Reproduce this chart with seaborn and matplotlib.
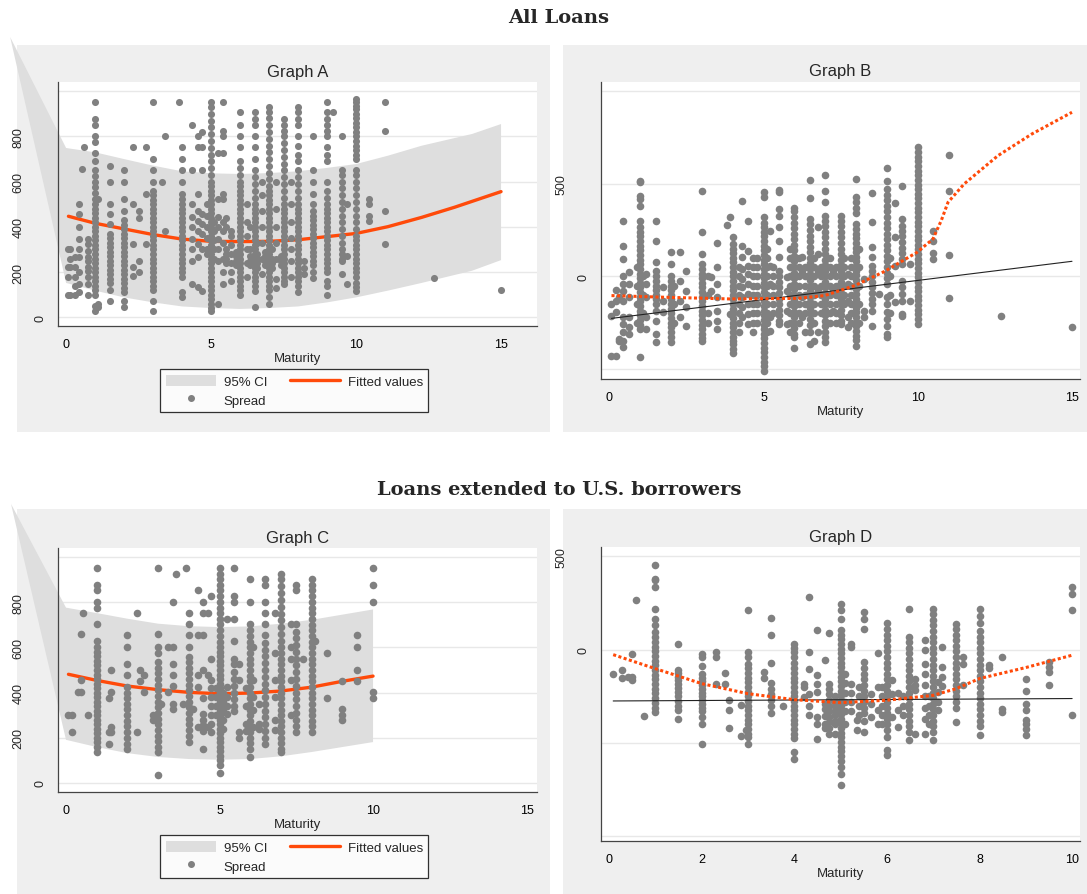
import matplotlib
matplotlib.use("Agg")
import matplotlib.pyplot as plt
import seaborn as sns
import pandas as pd
from matplotlib.patches import Rectangle, Patch
from matplotlib.lines import Line2D
from matplotlib.transforms import Bbox

# ---------------- data ----------------
# spread by maturity column, Graph A (all loans)
cols_a = {
    0.05: [302, 224, 177, 100], 0.15: [224, 100, 302, 260], 0.3: [265, 224, 177, 100, 140],
    0.45: [501, 457, 398, 346, 265, 199, 147, 110, 300], 0.55: [656], 0.6: [752],
    0.75: [346, 324, 295, 265, 224, 177, 147, 100, 250, 205],
    1.0: [951, 877, 852, 801, 774, 725, 693, 652, 627, 600, 575, 550, 525, 500, 480, 460, 440, 420,
          400, 380, 360, 340, 320, 300, 280, 260, 240, 220, 200, 180, 160, 140, 120, 100, 50, 29],
    1.1: [59, 523, 47],
    1.5: [668, 597, 501, 457, 413, 370, 350, 330, 310, 290, 270, 250, 230, 210, 190, 170, 150, 120, 74],
    2.0: [652, 597, 523, 472, 430, 410, 390, 370, 350, 330, 310, 290, 270, 250, 230, 210, 190, 170,
          150, 130, 110, 74, 47],
    2.3: [752, 501, 324, 224, 184], 2.5: [472, 440, 250, 200], 2.75: [752, 546, 324],
    3.0: [951, 700, 652, 597, 560, 540, 520, 500, 480, 460, 440, 420, 400, 380, 360, 340, 320, 300,
          280, 260, 240, 220, 200, 180, 160, 140, 120, 74, 29],
    3.3: [597], 3.4: [801, 383], 3.9: [951],
    4.0: [752, 700, 652, 597, 546, 523, 500, 480, 460, 440, 420, 400, 380, 360, 340, 320, 300, 280,
          260, 240, 220, 200, 180, 110, 88],
    4.35: [852, 652, 501, 442, 398, 346, 300, 250, 147], 4.55: [801, 752, 546, 472, 427, 383, 324, 265, 133],
    4.7: [820, 752, 652, 457, 413, 369, 302, 118], 4.85: [300, 280, 350, 400, 450, 500],
    5.0: [951, 930, 900, 870, 840, 810, 780, 750, 720, 690, 660, 630, 600, 580, 560, 540, 520, 500,
          480, 460, 440, 420, 400, 380, 360, 340, 320, 300, 280, 260, 240, 220, 200, 180, 160, 140,
          120, 100, 80, 60, 40, 29],
    5.1: [420, 380, 340, 300, 260],
    5.25: [726, 523, 442, 398, 346, 300, 250, 59], 5.4: [951, 826, 801, 725, 546, 523, 420, 380, 330, 260, 200, 147],
    5.5: [300, 280, 260, 240, 400, 440],
    5.7: [380, 360, 320, 280, 240, 200, 160], 5.85: [250, 270, 290, 230],
    6.0: [909, 852, 801, 752, 693, 660, 630, 600, 580, 560, 540, 520, 500, 480, 460, 440, 420, 400,
          380, 360, 340, 320, 300, 280, 260, 240, 220, 200, 180, 160, 140, 120, 100],
    6.25: [500, 420, 360, 300, 240, 180], 6.35: [250, 270, 230, 300, 400],
    6.5: [909, 877, 852, 801, 752, 700, 650, 620, 590, 560, 530, 500, 480, 460, 440, 420, 400, 380,
          360, 340, 320, 300, 280, 260, 240, 220, 200, 180, 160, 140, 118, 47],
    6.6: [260, 240, 280, 220, 330],
    6.75: [600, 540, 470, 400, 330, 260, 190], 6.85: [250, 230, 270, 290],
    7.0: [929, 907, 880, 850, 820, 790, 760, 730, 700, 670, 640, 610, 580, 560, 540, 520, 500, 480,
          460, 440, 420, 400, 380, 360, 340, 320, 300, 280, 260, 240, 220, 200, 180, 160, 140, 120, 90, 60],
    7.1: [240, 260, 220, 300],
    7.25: [600, 480, 400, 330, 260, 170, 130], 7.4: [270, 250, 230],
    7.5: [877, 852, 826, 801, 770, 740, 710, 680, 650, 620, 590, 560, 530, 500, 480, 460, 440, 420,
          400, 380, 360, 340, 320, 300, 280, 260, 240, 220, 200, 180, 160, 147],
    7.75: [600, 500, 420, 350, 300, 250, 180],
    8.0: [929, 907, 877, 852, 800, 760, 720, 690, 650, 620, 590, 560, 530, 500, 480, 460, 440, 420,
          400, 380, 360, 340, 320, 300, 280, 260, 240, 220, 200, 180, 160, 140, 110],
    8.2: [250, 220, 190],
    8.5: [801, 652, 597, 546, 501, 470, 450, 430, 410, 390, 370, 350, 330, 310, 290, 270, 250, 230, 200, 175],
    9.0: [951, 907, 877, 852, 826, 801, 752, 720, 693, 597, 560, 530, 500, 480, 460, 440, 420, 400,
          380, 360, 340, 320, 300, 280, 260, 240, 220, 200, 160, 140, 100],
    9.2: [907],
    9.5: [801, 650, 630, 600, 570, 540, 510, 480, 450, 420, 390, 360, 330, 300, 280, 260, 250, 190],
    9.7: [501, 270, 147],
    10.0: [966, 951, 935, 920, 900, 880, 860, 840, 820, 800, 780, 760, 740, 720, 700, 652, 630, 600,
           570, 540, 510, 480, 450, 420, 390, 360, 340, 320, 300, 280, 260, 240, 220, 200, 180, 150, 133, 118],
    10.45: [523, 501, 450, 427], 11.0: [951, 826, 472, 324], 12.7: [173], 15.0: [121],
}
fit_x_a = [0.08, 1, 2, 3, 4, 5, 6, 7, 8, 9, 10, 11.1, 12.26, 13.4, 15]
fit_y_a = [447, 416, 391, 366, 346, 336, 335, 336, 343, 357, 371, 401, 442, 487, 556]
ci_x_a = [0, 1, 2, 3, 4, 5, 6, 7, 8, 9, 10, 11.1, 12.26, 14, 15]
ci_hi_a = [749, 730, 700, 671, 646, 637, 634, 638, 646, 661, 678, 715, 759, 811, 855]
ci_lo_a = [152, 118, 88, 66, 48, 41, 37, 41, 48, 66, 88, 118, 152, 206, 253]
apex_a = (-1.93, 1240)

# Graph B (all loans, residual spread)
cols_b = {
    0.05: [-149, -212, -428], 0.2: [-428, -72, -131, -194], 0.3: [-338, -347, -113],
    0.45: [300, 165, 93, 4, -41, -77, -131, -221, -257, -302, -347, -383],
    0.65: [21, -41, -113, -221, -275, -311], 0.9: [50, -50, -150, -250],
    1.0: [516, 507, 435, 417, 381, 300, 264, 240, 215, 190, 165, 140, 115, 90, 65, 40, 15, -10, -35,
          -60, -85, -110, -135, -160, -185, -210, -235, -260, -284, -437],
    1.1: [0, -100, -200], 1.2: [12, -41, -113, -221, -284],
    1.5: [300, 192, 75, 30, 0, -25, -50, -75, -100, -125, -150, -185, -239, -311, -356],
    1.75: [-59, -131, -194],
    2.0: [129, 66, 0, -25, -50, -75, -100, -125, -150, -175, -200, -225, -250, -275, -300, -329, -356],
    2.1: [-50, -150, -250],
    2.3: [129, -23, -131, -221], 2.5: [30, -77, -167, -266],
    3.0: [459, 241, 120, 66, 40, 15, -10, -35, -60, -85, -110, -135, -160, -185, -210, -235, -260,
          -285, -310, -335, -347],
    3.2: [0, -100, -200, -250],
    3.3: [-5, -77], 3.5: [178, 48, -41, -113, -185, -239, -284], 3.8: [279], 3.9: [318, -203],
    4.0: [210, 174, 150, 125, 100, 75, 50, 25, 0, -25, -50, -75, -100, -125, -150, -175, -200, -225,
          -250, -275, -300, -325, -350, -365, -392, -416],
    4.2: [50, 0, -50, -100, -150, -200, -250, -300],
    4.3: [405, 165, 102, 39, -14, -59, -113, -167, -221], 4.5: [300, 138, 57, 10, -41, -95, -149, -203, -257],
    4.65: [100, 50, 0, -50, -100, -150, -200, -250, -300],
    4.8: [100, 50, 0, -50, -100, -150, -200, -250],
    5.0: [453, 426, 318, 290, 265, 240, 215, 190, 165, 140, 115, 90, 65, 40, 15, -10, -35, -60, -85,
          -110, -135, -160, -185, -210, -235, -260, -285, -310, -335, -360, -385, -410, -435, -460, -485, -509],
    5.1: [150, 100, 50, 0, -50, -100, -150, -200, -250, -300],
    5.2: [246, 57, -41, -221, -293], 5.3: [50, 0, -50, -100, -150, -200],
    5.5: [466, 453, 363, 327, 268, 192, 102, 30, 0, -30, -60, -90, -120, -150, -180, -210, -240, -257],
    5.75: [-5, -77, -185, -257], 5.85: [150, 100, 50, 0, -50, -100, -150, -200, -250, -300],
    6.0: [369, 354, 318, 290, 260, 230, 200, 170, 140, 110, 80, 50, 20, -10, -40, -70, -100, -130,
          -160, -190, -220, -250, -280, -310, -329, -387],
    6.15: [100, 50, 0, -50, -100, -150, -200, -250],
    6.25: [102, 30, -113, -221], 6.35: [50, 0, -50, -100, -150, -200, -300],
    6.5: [521, 423, 309, 280, 250, 220, 190, 160, 130, 100, 70, 40, 10, -20, -50, -80, -110, -140,
          -170, -200, -230, -260, -302, -365],
    6.65: [100, 50, 0, -50, -100, -150, -200, -250, -350],
    6.75: [264, 120, 30, -77, -302], 6.85: [50, 0, -50, -100, -150, -200],
    7.0: [548, 462, 399, 327, 300, 270, 240, 210, 180, 150, 120, 90, 60, 30, 0, -30, -60, -90, -120,
          -150, -180, -210, -240, -270, -300, -330, -356],
    7.15: [100, 50, 0, -50, -100, -150, -200, -250],
    7.25: [30, -77, -185], 7.35: [50, 0, -50, -100, -150, -200, -250],
    7.5: [327, 300, 270, 240, 210, 180, 150, 120, 90, 60, 30, 0, -30, -60, -90, -120, -150, -180, -210, -240, -257],
    7.6: [100, 50, 0, -50, -100, -150],
    7.75: [12, -41, -131, -221, -275], 7.85: [100, 50, 0, -50, -100, -150, -200, -250],
    8.0: [525, 426, 400, 370, 340, 282, 255, 230, 205, 180, 155, 130, 105, 80, 55, 30, 5, -20, -45,
          -70, -95, -120, -145, -170, -195, -220, -245, -270, -295, -320, -345, -374],
    8.1: [150, 50, -50, -150, -250],
    8.25: [-14, -185, -221],
    8.5: [450, 291, 160, 102, 57, 30, 0, -30, -60, -90, -120, -150, -185, -266],
    8.75: [-95],
    9.0: [583, 512, 471, 440, 410, 380, 350, 320, 290, 260, 230, 200, 170, 140, 110, 80, 50, 20, -10,
          -41, -113, -150, -190, -230, -270, -310, -329],
    9.1: [100, 0, -100, -200],
    9.25: [394, 210, 57, -140],
    9.5: [485, 309, 273, 245, 215, 185, 155, 125, 95, 66, -23, -60, -95, -131, -203, -212],
    9.75: [66, -131],
    10.0: [696, 670, 645, 620, 595, 570, 545, 520, 495, 470, 445, 420, 395, 370, 345, 320, 295, 270,
           245, 220, 195, 170, 145, 120, 95, 70, 45, 20, -5, -30, -55, -80, -105, -130, -155, -180,
           -205, -230, -257],
    10.5: [246, 192, 124, 93], 11.0: [655, 462, 117, -119], 12.7: [-216], 15.0: [-272],
}
lin_x_b = [0.07, 15]
lin_y_b = [-227, 81]
low_x_b = [0.07, 1.8, 3.9, 6.1, 6.98, 7.96, 8.93, 9.97, 10.49, 10.76, 10.98, 11.5, 12.6, 13.7, 15]
low_y_b = [-104, -113, -122, -119, -104, -50, 27, 129, 201, 300, 399, 498, 651, 768, 885]

# Graph C (U.S. borrowers)
cols_c = {
    0.05: [299], 0.21: [299, 225], 0.38: [401], 0.49: [658, 454, 401], 0.57: [752], 0.73: [299],
    1.0: [951, 877, 852, 801, 776, 702, 627, 601, 580, 560, 540, 520, 500, 480, 460, 440, 420, 400,
          380, 360, 340, 320, 300, 280, 260, 240, 220, 200, 180, 160, 137],
    1.4: [376, 225, 174], 1.47: [501, 401, 247, 225],
    2.0: [653, 601, 525, 476, 425, 400, 376, 351, 326, 300, 275, 250, 225, 200, 174, 149],
    2.3: [752, 225], 2.41: [501, 451], 2.55: [476, 401], 2.82: [299, 277],
    3.0: [951, 658, 601, 575, 535, 510, 485, 460, 435, 410, 385, 360, 335, 310, 285, 260, 235, 210,
          185, 160, 137, 35],
    3.1: [351], 3.31: [601, 401], 3.47: [801, 601, 525, 476, 427, 351, 326], 3.57: [926],
    3.82: [351], 3.9: [951],
    4.0: [752, 702, 653, 601, 557, 535, 510, 485, 460, 435, 410, 385, 360, 335, 310, 285, 260, 235, 210, 180],
    4.15: [326], 4.31: [852, 653, 476, 424, 247],
    4.47: [801, 752, 653, 498, 376, 306, 280, 255, 230, 149],
    4.64: [752, 476, 247], 4.71: [827, 550, 454, 420, 380, 340, 300, 260, 225],
    4.88: [420, 380, 340, 300],
    5.0: [951, 925, 901, 877, 852, 827, 801, 776, 752, 727, 702, 675, 650, 625, 600, 580, 560, 540,
          520, 500, 480, 460, 440, 420, 400, 380, 360, 340, 320, 300, 280, 260, 240, 220, 200, 180,
          160, 140, 120, 100, 78, 44],
    5.1: [400, 360, 320, 280, 240],
    5.23: [727, 424, 380, 340, 306],
    5.47: [951, 827, 801, 727, 627, 550, 525, 490, 460, 430, 400, 370, 340, 320],
    5.63: [525, 454, 225, 200], 5.85: [420, 340, 260, 230],
    6.0: [901, 801, 702, 675, 650, 625, 600, 575, 550, 525, 500, 475, 450, 425, 400, 375, 350, 325,
          300, 275, 250, 225, 200, 175, 150, 115],
    6.1: [601, 454, 380, 321, 247], 6.3: [260, 240, 350],
    6.48: [901, 877, 801, 752, 702, 653, 620, 590, 560, 530, 500, 470, 440, 410, 380, 350, 320, 290, 260, 230, 200, 174],
    6.81: [752, 575, 454, 380, 277, 233],
    7.0: [926, 901, 870, 840, 810, 780, 750, 720, 690, 660, 630, 600, 575, 550, 525, 500, 475, 450,
          425, 400, 375, 350, 325, 300, 275, 250, 225, 200, 175, 150, 137],
    7.32: [702, 601, 550, 454, 299],
    7.48: [877, 852, 702, 670, 640, 610, 580, 550, 520, 490, 460, 430, 400, 370, 340, 310, 280, 250, 225],
    7.73: [550],
    8.0: [901, 877, 852, 827, 801, 776, 752, 727, 700, 675, 650, 625, 600, 575, 550, 525, 500, 475,
          450, 425, 400, 375, 350, 325, 300, 275, 250, 225],
    8.1: [627], 8.49: [575, 376], 8.98: [451, 326, 299, 277], 9.49: [653, 601, 501, 451],
    10.0: [951, 877, 801, 401, 376],
}
fit_x_c = [0.08, 1, 2, 3, 4, 5, 6, 7, 8, 9, 10]
fit_y_c = [481, 454, 429, 413, 401, 395, 398, 407, 424, 450, 473]
ci_x_c = [0, 1, 2, 3, 4, 5, 6, 7, 8, 9, 10]
ci_hi_c = [776, 752, 727, 705, 694, 690, 693, 705, 722, 745, 768]
ci_lo_c = [191, 159, 132, 115, 106, 103, 106, 118, 137, 159, 181]
apex_c = (-1.79, 1235)

# Graph D (U.S. borrowers, residual spread)
cols_d = {
    0.09: [-128], 0.27: [-111, -153], 0.4: [-146], 0.5: [-25, -146, -164], 0.59: [264], 0.75: [-355],
    1.0: [452, 380, 371, 336, 220, 166, 130, 95, 66, 40, 15, -10, -35, -60, -85, -110, -135, -160,
          -185, -210, -235, -260, -285, -310, -335],
    1.49: [32, -107, -125, -145, -165, -185, -205, -225, -250, -275, -300, -325, -370],
    2.0: [-21, -39, -86, -130, -150, -170, -190, -210, -230, -250, -270, -290, -310, -330, -360, -400, -503],
    2.3: [-12, -39, -182], 2.5: [-125, -182], 2.6: [-271, -325, -418], 2.84: [-295, -464], 2.95: [-432],
    3.0: [211, -12, -39, -75, -100, -125, -150, -175, -200, -225, -250, -275, -300, -325, -350, -375,
          -400, -425, -450, -470, -503],
    3.34: [-119, -152], 3.49: [170, 77, -70, -178, -210, -240, -270, -300, -337], 3.75: [-303],
    4.0: [32, 10, -15, -40, -70, -100, -125, -150, -175, -200, -225, -250, -275, -300, -325, -350,
          -375, -400, -425, -450, -475, -548, -584],
    4.2: [-182, -200, -253], 4.32: [282, -12, -105, -236, -303, -352],
    4.5: [104, -134, -182, -227, -361, -396, -477], 4.66: [-53, -289, -320, -355, -400, -420],
    4.75: [89, -182, -210, -240, -270, -300, -330, -360, -390, -420, -450],
    4.88: [-250, -280, -300, -330, -350, -380, -400, -450],
    5.0: [243, 211, 166, 104, 80, 55, 30, 5, -20, -45, -70, -95, -120, -145, -170, -195, -220, -245,
          -270, -295, -320, -345, -370, -395, -420, -445, -470, -495, -520, -545, -570, -595, -628, -664, -725],
    5.1: [-128, -180, -230, -280, -330, -400], 5.23: [32, 14, -182, -230, -280, -330], 5.35: [-378, -432],
    5.4: [-200, -250, -300, -350],
    5.5: [202, 166, 113, -66, -100, -128, -160, -190, -220, -250, -280, -310, -340, -380, -441],
    5.65: [-236, -289, -361], 5.81: [-17, -200, -325, -396], 5.9: [-200, -250, -300, -350, -400],
    6.0: [143, 110, 80, 50, 20, -10, -40, -70, -100, -130, -160, -190, -220, -250, -280, -310, -340,
          -370, -400, -430, -468, -536, -566],
    6.1: [-164, -236, -361], 6.24: [-232, -325, -414], 6.35: [-250, -300, -350],
    6.48: [220, 68, 40, 10, -20, -50, -80, -110, -140, -170, -200, -230, -260, -290, -320, -350, -380, -410, -440, -482],
    6.6: [-155, -191, -218, -450], 6.82: [50, -3, -75, -130, -190, -250, -310, -370, -450],
    6.9: [-250, -300, -350, -400],
    7.0: [220, 190, 160, 130, 100, 70, 40, 10, -20, -50, -80, -110, -140, -170, -200, -230, -260,
          -290, -320, -350, -380, -410, -440, -486],
    7.1: [-173, -227, -280, -325], 7.2: [14, -93, -146, -196],
    7.5: [139, 110, 80, 50, 20, -10, -40, -70, -100, -130, -160, -190, -220, -250, -280, -310, -387],
    7.65: [-39, -75, -191],
    8.0: [220, 180, 140, 100, 70, 40, 10, -20, -50, -80, -110, -140, -170, -200, -230, -260, -290,
          -320, -350, -380, -410, -459],
    8.2: [-84, -96], 8.49: [-39, -316, -334], 9.0: [-155, -223, -289, -325, -378, -396, -423, -455],
    9.5: [-66, -93, -119, -191], 10.0: [336, 296, 211, -352],
}
lin_x_d = [0.09, 10]
lin_y_d = [-275, -262]
low_x_d = [0.09, 1, 2, 3, 4, 5, 6, 7, 7.5, 8, 9, 10]
low_y_d = [-27, -102, -182, -236, -268, -284, -271, -245, -209, -155, -96, -30]

xticks_15 = [0, 5, 10, 15]
xticks_10 = [0, 2, 4, 6, 8, 10]
yticks_ac = [0, 200, 400, 600, 800, 1000]
ylabels_ac = ['0', '200', '400', '600', '800', '1000']
yticks_b = [-500, 0, 500, 1000]
ylabels_b = ['-500', '0', '500', '1000']
yticks_d = [-1000, -500, 0, 500]
ylabels_d = ['', '-500', '0', '500']

# ---------------- style ----------------
sns.set_style("white")
plt.rcParams['font.family'] = ['Liberation Sans', 'DejaVu Sans']

GREY = '#808080'
BAND = '#dedede'
RED = '#ff4a0a'
BG = '#efefef'
AXC = '#444444'

W, H = 1087, 895
fig = plt.figure(figsize=(W / 100, H / 100), dpi=100)
fig.patch.set_facecolor('white')


def frac(x0, y0, x1, y1):
    return [x0 / W, 1 - y1 / H, (x1 - x0) / W, (y1 - y0) / H]


def to_frame(cols):
    rows = [(x, y) for x, ys in cols.items() for y in ys]
    return pd.DataFrame(rows, columns=['maturity', 'spread'])


cut_texts = []


def make_panel(bg, box, title, xlim, ylim, xticks, yticks, ylabels, cut):
    fig.add_artist(Rectangle((bg[0] / W, 1 - bg[3] / H), (bg[2] - bg[0]) / W, (bg[3] - bg[1]) / H,
                             transform=fig.transFigure, facecolor=BG, edgecolor='none', zorder=-5))
    ax = fig.add_axes(frac(*box))
    ax.set_facecolor('white')
    ax.set_xlim(*xlim)
    ax.set_ylim(*ylim)
    ax.set_xticks(xticks)
    ax.set_yticks(yticks)
    ax.set_axisbelow(True)
    ax.yaxis.grid(True, color='#e8e8e8', lw=1.0)
    ax.xaxis.grid(False)
    for s in ['top', 'right']:
        ax.spines[s].set_visible(False)
    for s in ['left', 'bottom']:
        ax.spines[s].set_color(AXC)
        ax.spines[s].set_linewidth(0.9)
    ax.tick_params(axis='both', direction='out', length=4.3, width=0.8, color=AXC,
                   labelsize=9, pad=4, labelcolor='black')
    ax.tick_params(axis='y', labelleft=False)
    # Stata-like vertical y labels, spaced from the axis by label length
    for v, lab in zip(yticks, ylabels):
        off = (7 + 10.65 * len(lab)) * 0.72
        t = ax.annotate(lab, xy=(0, v), xycoords=('axes fraction', 'data'), xytext=(-off, 0),
                        textcoords='offset points', rotation=90, ha='center', va='center',
                        fontsize=9, annotation_clip=False)
        if v in cut:
            cut_texts.append(t)
    cx = (box[0] + box[2]) / 2
    fig.text(cx / W, 1 - (box[1] - 11) / H, title, ha='center', va='center', fontsize=12)
    return ax


def finish(ax):
    ax.set_xlabel('Maturity', fontsize=9.5, labelpad=1.5)
    ax.set_ylabel('')


def band(ax, cx, lo, hi, apex):
    xs = [apex[0]] + list(cx) + list(cx[::-1]) + [apex[0]]
    ys = [apex[1]] + list(hi) + list(lo[::-1]) + [apex[1]]
    ax.fill(xs, ys, color=BAND, lw=0, clip_on=False, zorder=1)


def legend(ax, top_px):
    handles = [Patch(facecolor=BAND, edgecolor='none'),
               Line2D([], [], marker='o', ls='none', color=GREY, markersize=4),
               Line2D([], [], color=RED, lw=2.4)]
    lg = ax.legend(handles, ['95% CI', 'Spread', 'Fitted values'], loc='upper left',
                   bbox_to_anchor=(160 / W, 1 - top_px / H), bbox_transform=fig.transFigure,
                   ncol=2, fontsize=9.5, frameon=True, fancybox=False, edgecolor='black',
                   handlelength=3.8, handleheight=1.0, handletextpad=0.6, columnspacing=1.7,
                   borderpad=0.42, labelspacing=0.4, borderaxespad=0)
    lg.get_frame().set_linewidth(0.9)


# Graph A
ax_a = make_panel((17, 45.7, 550, 433), (57.7, 83, 537, 327), 'Graph A', (-0.29, 16.24), (-38.5, 1041),
                  xticks_15, yticks_ac, ylabels_ac, [1000])
band(ax_a, ci_x_a, ci_lo_a, ci_hi_a, apex_a)
ax_a.plot(fit_x_a, fit_y_a, color=RED, lw=2.4, zorder=2)
sns.scatterplot(data=to_frame(cols_a), x='maturity', y='spread', color=GREY, s=26, linewidth=0,
                ax=ax_a, zorder=3, legend=False)
finish(ax_a)
legend(ax_a, 370)

# Graph B
ax_b = make_panel((562.7, 45.7, 1087, 433), (600.7, 82.7, 1080, 380), 'Graph B', (-0.28, 15.26), (-554, 1050),
                  xticks_15, yticks_b, ylabels_b, [1000, -500])
sns.scatterplot(data=to_frame(cols_b), x='maturity', y='spread', color=GREY, s=30, linewidth=0,
                ax=ax_b, zorder=2, legend=False)
ax_b.plot(lin_x_b, lin_y_b, color='#222222', lw=0.8, zorder=3)
ax_b.plot(low_x_b, low_y_b, color=RED, lw=2.2, ls=(0, (1, 0.8)), zorder=4)
finish(ax_b)

# Graph C
ax_c = make_panel((17, 510, 550, 899), (57.7, 549, 537, 793), 'Graph C', (-0.27, 15.34), (-40, 1040),
                  xticks_15, yticks_ac, ylabels_ac, [1000])
band(ax_c, ci_x_c, ci_lo_c, ci_hi_c, apex_c)
ax_c.plot(fit_x_c, fit_y_c, color=RED, lw=2.4, zorder=2)
sns.scatterplot(data=to_frame(cols_c), x='maturity', y='spread', color=GREY, s=30, linewidth=0,
                ax=ax_c, zorder=3, legend=False)
finish(ax_c)
legend(ax_c, 836)

# Graph D
ax_d = make_panel((562.7, 510, 1087, 899), (600.7, 548.3, 1080, 842), 'Graph D', (-0.18, 10.17), (-1025, 548),
                  xticks_10, yticks_d, ylabels_d, [-500])
sns.scatterplot(data=to_frame(cols_d), x='maturity', y='spread', color=GREY, s=30, linewidth=0,
                ax=ax_d, zorder=2, legend=False)
ax_d.plot(lin_x_d, lin_y_d, color='#222222', lw=0.8, zorder=3)
ax_d.plot(low_x_d, low_y_d, color=RED, lw=2.2, ls=(0, (1, 0.8)), zorder=4)
finish(ax_d)

# section titles
fig.text(559 / W, 1 - 18 / H, 'All Loans', ha='center', va='center', fontsize=14,
         fontweight='bold', family='DejaVu Serif')
fig.text(559 / W, 1 - 490 / H, 'Loans extended to U.S. borrowers', ha='center', va='center',
         fontsize=14, fontweight='bold', family='DejaVu Serif')

# the top/bottom y labels only show a thin sliver in the original
fig.canvas.draw()
for t in cut_texts:
    bb = t.get_window_extent()
    t.set_clip_box(Bbox.from_extents(bb.x1 - 3.5, bb.y0 - 2, bb.x1, bb.y1 + 2))
    t.set_clip_on(True)

fig.savefig('out.png', dpi=100, facecolor='white')
